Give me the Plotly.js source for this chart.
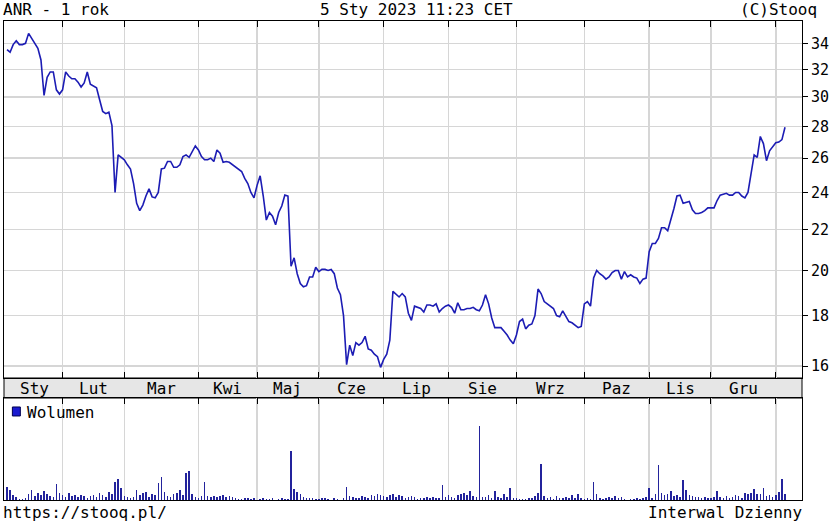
<!DOCTYPE html>
<html><head><meta charset="utf-8">
<script src="https://cdn.plot.ly/plotly-3.0.1.min.js"></script>
<style>html,body{margin:0;padding:0;background:#fff}#chart{width:830px;height:525px}</style>
</head><body><div id="chart"></div>
<script>
const titleLeft = 'ANR - 1 rok';
const titleCenter = '5 Sty 2023 11:23 CET';
const titleRight = '(C)Stooq';
const footerLeft = 'https://stooq.pl/';
const footerRight = 'Interwal Dzienny';
const volumeName = 'Wolumen';

const months = ['Sty','Lut','Mar','Kwi','Maj','Cze','Lip','Sie','Wrz','Paz','Lis','Gru'];
// trading-day index of the first session of each month (Lut .. Sty 2023)
const monthStartIdx = [18, 38, 62, 81, 101, 122, 143, 165, 187, 208, 228, 249];
const priceTicks = [16,18,20,22,24,26,28,30,32,34];

const price = [
33.5,33.3,33.9,34.2,33.9,33.9,34.0,34.8,34.4,34.0,33.6,32.7,30.1,31.4,31.8,31.8,30.5,30.2,
30.5,31.8,31.5,31.3,31.3,31.05,30.7,31.0,31.8,30.9,30.8,30.65,29.8,29.0,28.85,28.95,28.05,24.0,26.2,26.05,
25.9,25.6,25.35,24.5,23.4,23.0,23.3,23.8,24.2,23.75,23.7,24.0,25.35,25.4,25.8,25.8,25.45,25.45,25.6,26.1,26.2,26.05,26.4,26.75,
26.5,26.1,25.9,25.9,26.0,25.8,26.5,26.3,25.75,25.8,25.75,25.6,25.45,25.3,25.2,24.8,24.5,24.0,23.7,
24.4,24.95,23.8,22.5,22.9,22.7,22.25,22.9,23.25,23.85,23.8,20.2,20.6,19.85,19.4,19.25,19.3,19.7,19.7,20.15,
19.95,20.05,20.05,20.0,20.05,19.85,19.2,18.9,18.0,16.05,16.8,16.4,16.9,16.8,16.9,17.15,16.65,16.6,16.45,16.35,15.95,
16.25,16.45,17.0,19.05,18.9,18.8,18.95,18.8,18.1,17.8,18.4,18.35,18.3,18.15,18.45,18.45,18.4,18.5,18.15,18.3,18.4,
18.45,18.35,18.1,18.55,18.25,18.25,18.3,18.3,18.35,18.25,18.2,18.45,18.9,18.5,17.9,17.5,17.5,17.5,17.35,17.2,17.0,16.85,
17.2,17.75,17.85,17.45,17.6,17.65,18.0,19.15,18.95,18.6,18.5,18.4,18.3,18.0,17.95,18.2,18.0,17.75,17.7,17.6,17.5,17.55,
18.5,18.6,18.4,19.65,20.0,19.85,19.75,19.6,19.7,19.9,20.0,20.0,19.6,19.95,19.7,19.8,19.7,19.65,19.4,19.6,19.65,
20.9,21.3,21.3,21.55,22.1,22.1,21.95,22.5,23.1,23.8,23.85,23.4,23.45,23.5,23.05,22.85,22.85,22.9,23.0,23.15,
23.15,23.15,23.55,23.85,23.9,23.95,23.85,23.85,24.0,24.0,23.8,23.7,24.0,25.1,26.2,26.05,27.35,26.9,25.85,26.45,26.7,
26.95,27.0,27.15,27.95
];

// volume (thousands)
const volume = [
130,100,50,30,10,10,20,60,100,40,70,50,90,60,40,30,160,70,
50,30,70,40,50,30,50,40,20,40,50,30,70,50,30,80,60,180,210,120,
40,30,20,30,100,50,70,80,30,60,50,170,230,80,40,30,60,70,100,50,270,290,60,30,
20,40,180,40,30,40,30,40,50,30,40,30,20,10,10,20,20,10,20,
0,10,20,10,10,20,0,10,20,10,10,490,110,80,60,30,20,20,20,10,
10,20,20,10,0,20,10,0,20,130,40,30,20,20,40,30,20,50,40,60,50,
40,30,50,60,30,50,40,20,30,40,30,10,20,20,30,20,30,20,20,150,30,
50,30,20,50,60,70,50,90,40,30,740,30,30,50,20,90,30,20,60,30,120,20,
20,10,10,10,20,20,40,70,360,40,20,30,10,40,20,20,30,20,50,20,60,20,
10,20,10,180,60,20,10,20,30,20,40,20,30,10,0,10,10,20,10,20,30,
120,20,60,350,70,50,60,90,40,50,30,200,100,50,40,30,30,20,30,20,
20,30,90,30,20,40,20,30,50,40,20,70,60,70,110,60,60,120,40,50,30,
50,80,210,60
];

const idx = price.map((_, i) => i);
const FONT = 'DejaVu Sans Mono, Liberation Mono, monospace';
const GRID = '#d6d6d6';

// label centre of each month
const bounds = [0].concat(monthStartIdx);
const labelPos = months.map((m, k) => (bounds[k] + bounds[k + 1]) / 2);

const traces = [
  {type:'scatter', mode:'lines', x: idx, y: price, xaxis:'x', yaxis:'y',
   line:{color:'#1c1cb4', width:1.6}, hoverinfo:'y', showlegend:false},
  {type:'bar', x: idx, y: volume, xaxis:'x2', yaxis:'y2', name: volumeName,
   marker:{color:'#23239c', line:{width:0}}, width:0.5, showlegend:false}
];

const xr = [-0.97, 257.5];
const volDom = [0, 0.2129];
const priceDom = [0.2547, 1];

const annotations = [
  {text:titleLeft, xref:'paper', yref:'paper', x:-0.004, y:1.023, xanchor:'left', yanchor:'middle', showarrow:false},
  {text:titleCenter, xref:'paper', yref:'paper', x:0.5175, y:1.023, xanchor:'center', yanchor:'middle', showarrow:false},
  {text:titleRight, xref:'paper', yref:'paper', x:1.021, y:1.023, xanchor:'right', yanchor:'middle', showarrow:false},
  {text:footerLeft, xref:'paper', yref:'paper', x:-0.004, y:-0.027, xanchor:'left', yanchor:'middle', showarrow:false},
  {text:footerRight, xref:'paper', yref:'paper', x:1.002, y:-0.027, xanchor:'right', yanchor:'middle', showarrow:false},
  {text:volumeName, xref:'paper', yref:'paper', x:0.0265, y:0.1837, xanchor:'left', yanchor:'middle', showarrow:false}
].concat(months.map((m, k) => ({
  text:m, xref:'x', yref:'paper', x:labelPos[k], y:(volDom[1] + priceDom[0]) / 2,
  xanchor:'center', yanchor:'middle', showarrow:false
})));

const layout = {
  width:830, height:525,
  margin:{l:4, r:28, t:21, b:25, pad:0},
  paper_bgcolor:'#ffffff', plot_bgcolor:'#ffffff',
  showlegend:false,
  font:{family:FONT, size:16, color:'#000'},
  bargap:0,
  xaxis:{domain:[0,1], anchor:'y', range:xr, tickvals:monthStartIdx, showticklabels:false,
    ticks:'inside', ticklen:6, tickwidth:1, tickcolor:'#000',
    showgrid:true, gridcolor:GRID, gridwidth:1.5, zeroline:false,
    showline:true, linecolor:'#000', linewidth:1, mirror:'ticks', fixedrange:true},
  yaxis:{domain:priceDom, anchor:'x', type:'log', range:[Math.log10(15.558), Math.log10(35.82)],
    side:'right', tickvals:priceTicks, ticktext:priceTicks.map(String),
    ticks:'outside', ticklen:5, tickcolor:'#000', tickfont:{size:15, family:FONT},
    showgrid:true, gridcolor:GRID, gridwidth:1.5, zeroline:false,
    showline:true, linecolor:'#000', linewidth:1, mirror:true, fixedrange:true},
  xaxis2:{domain:[0,1], anchor:'y2', range:xr, tickvals:monthStartIdx, showticklabels:false,
    side:'top', ticks:'inside', ticklen:6, tickcolor:'#000',
    showgrid:true, gridcolor:GRID, gridwidth:1.5, zeroline:false,
    showline:true, linecolor:'#000', linewidth:1, mirror:true, fixedrange:true},
  yaxis2:{domain:volDom, anchor:'x2', range:[0, 1020], showticklabels:false, ticks:'',
    showgrid:false, zeroline:false, showline:true, linecolor:'#000', linewidth:1, mirror:true, fixedrange:true},
  shapes:[
    {type:'rect', xref:'paper', yref:'paper', x0:0, x1:1, y0:volDom[1], y1:priceDom[0],
     fillcolor:'#e6e6e6', line:{color:'#000', width:1}, layer:'below'},
    {type:'rect', xref:'paper', yref:'paper', x0:0.0105, x1:0.0205, y0:0.1754, y1:0.1942,
     fillcolor:'#1a1ad0', line:{color:'#000050', width:1}}
  ],
  annotations: annotations
};

Plotly.newPlot('chart', traces, layout, {displayModeBar:false, staticPlot:true});
</script>
</body></html>
